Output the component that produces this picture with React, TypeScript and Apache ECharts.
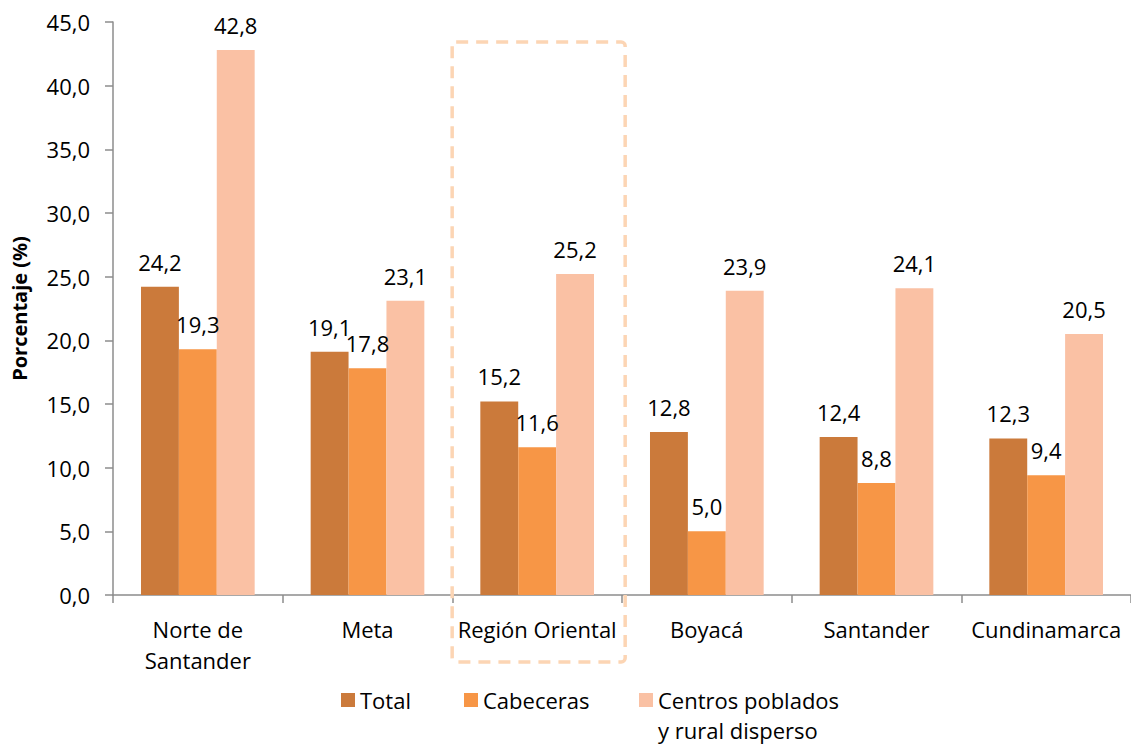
import React, { useEffect, useRef } from "react";
import * as echarts from "echarts";

const categories = ["Norte de\nSantander", "Meta", "Región Oriental", "Boyacá", "Santander", "Cundinamarca"];
const totalValues = [24.2, 19.1, 15.2, 12.8, 12.4, 12.3];
const cabecerasValues = [19.3, 17.8, 11.6, 5.0, 8.8, 9.4];
const centrosValues = [42.8, 23.1, 25.2, 23.9, 24.1, 20.5];
const seriesNames = ["Total", "Cabeceras", "Centros poblados y rural disperso"];
const legendLines = ["Centros poblados", "y rural disperso"];
const highlightCategory = "Región Oriental";

const FONT = "'Open Sans', 'Noto Sans', sans-serif";
const FS = 22;
const fmt = (v: number) => v.toFixed(1).replace(".", ",");

export default function App() {
  const ref = useRef<HTMLDivElement>(null);
  useEffect(() => {
    if (!ref.current) return;
    const chart = echarts.init(ref.current, undefined, { renderer: "svg" });
    const labelCfg = {
      show: true,
      position: "top" as const,
      distance: 14,
      fontSize: FS,
      fontFamily: FONT,
      color: "#000",
      formatter: (p: any) => fmt(p.value),
    };
    const legendBase = {
      top: 689,
      padding: 0,
      icon: "rect",
      itemWidth: 14,
      itemHeight: 14,
      itemGap: 0,
      textStyle: { fontSize: FS, fontFamily: FONT, color: "#000" },
    };
    chart.setOption({
      animation: false,
      textStyle: { fontFamily: FONT },
      grid: { left: 113, top: 22, width: 1025, height: 573 },
      legend: [
        { ...legendBase, left: 341, data: [seriesNames[0]] },
        { ...legendBase, left: 464, data: [seriesNames[1]] },
        { ...legendBase, left: 639, data: [seriesNames[2]], formatter: () => legendLines[0] },
      ],
      xAxis: {
        type: "category",
        data: categories,
        axisLine: { lineStyle: { color: "#8c8c8c", width: 1.5 } },
        axisTick: { show: true, length: 8, lineStyle: { color: "#8c8c8c", width: 1.5 } },
        axisLabel: { fontSize: FS, fontFamily: FONT, color: "#000", margin: 18, lineHeight: 31, interval: 0 },
      },
      yAxis: {
        type: "value",
        min: 0,
        max: 45,
        interval: 5,
        name: "Porcentaje (%)",
        nameLocation: "middle",
        nameGap: 84,
        nameTextStyle: { fontSize: 20, fontWeight: "bold", fontFamily: FONT, color: "#000" },
        axisLine: { show: true, lineStyle: { color: "#8c8c8c", width: 1.5 } },
        axisTick: { show: true, length: 8, lineStyle: { color: "#8c8c8c", width: 1.5 } },
        axisLabel: { fontSize: FS, fontFamily: FONT, color: "#000", margin: 23, formatter: (v: number) => fmt(v) },
        splitLine: { show: false },
      },
      series: [
        { name: seriesNames[0], type: "bar", data: totalValues, itemStyle: { color: "#CB7A3B" }, label: labelCfg, barGap: "0%", barCategoryGap: "33%" },
        { name: seriesNames[1], type: "bar", data: cabecerasValues, itemStyle: { color: "#F79646" }, label: labelCfg, barGap: "0%", barCategoryGap: "33%" },
        { name: seriesNames[2], type: "bar", data: centrosValues, itemStyle: { color: "#FAC1A4" }, label: labelCfg, barGap: "0%", barCategoryGap: "33%" },
      ],
    });
    const cx = chart.convertToPixel({ xAxisIndex: 0 }, highlightCategory) as number;
    chart.setOption({
      graphic: [
        {
          type: "rect",
          shape: { x: cx - 85, y: 42, width: 173, height: 620, r: 4 },
          style: { fill: "none", stroke: "#FCD5B4", lineWidth: 3.5, lineDash: [12, 8] },
          z: 100,
        },
        {
          type: "text",
          x: 658,
          y: 730,
          style: { text: legendLines[1], fontSize: FS, fontFamily: FONT, fill: "#000", textVerticalAlign: "middle" },
        },
      ],
    });
    return () => chart.dispose();
  }, []);
  return <div ref={ref} style={{ position: "absolute", left: 0, top: 0, width: 1131, height: 744 }} />;
}
